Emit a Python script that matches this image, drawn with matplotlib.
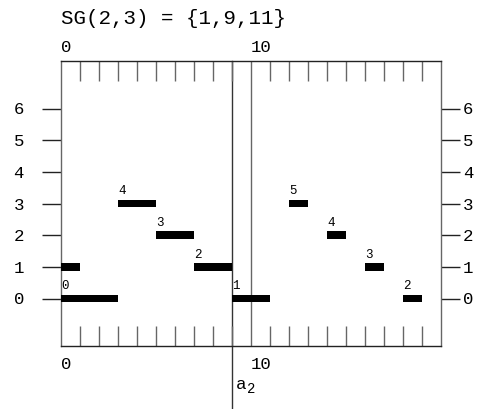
import matplotlib.pyplot as plt
from matplotlib.ticker import FixedLocator
from matplotlib.transforms import offset_copy

plt.rcParams['font.family'] = ['Liberation Mono', 'DejaVu Sans Mono']

# segments: row (y), start, end, label shown above the left end
seg_y = [0, 1, 3, 2, 1, 0, 3, 2, 1, 0]
seg_start = [0, 0, 3, 5, 7, 9, 12, 14, 16, 18]
seg_end = [3, 1, 5, 7, 9, 11, 13, 15, 17, 19]
seg_label = ['0', '', '4', '3', '2', '1', '5', '4', '3', '2']

title = 'SG(2,3) = {1,9,11}'
x_labeled = [0, 10]
x_minor = [i for i in range(1, 20) if i != 10]
y_ticks = [0, 1, 2, 3, 4, 5, 6]
cut_x = 9
gap_x = 10

fig = plt.figure(figsize=(4.8, 4.09), dpi=100)
ax = fig.add_axes([61 / 480, 1 - 346 / 409, 380 / 480, 285 / 409])
line_col = '#666666'

for y, s, e, lab in zip(seg_y, seg_start, seg_end, seg_label):
    ax.barh(y, e - s, left=s, height=0.25, color='black', zorder=3)
    if lab:
        ax.text(s, y + 0.2, lab, fontsize=9, ha='left', va='bottom')

ax.set_xlim(0, 20)
ax.set_ylim(-1.5, 7.5)

# vertical markers
ax.axvline(gap_x, color=line_col, lw=1, zorder=1)
ax.plot([cut_x, cut_x], [7.5, -3.6], color='#333333', lw=1, clip_on=False,
        zorder=1)
ax.text(cut_x + 0.2, -2.72, 'a', fontsize=12.5, ha='left', va='center')
sub_tr = offset_copy(ax.transData, fig=fig, x=11, y=-4, units='dots')
ax.text(cut_x + 0.2, -2.72, '2', fontsize=10, ha='left', va='center',
        transform=sub_tr)

for sp in ax.spines.values():
    sp.set_color(line_col)
    sp.set_linewidth(1)
ax.spines['top'].set_color('#222222')
ax.spines['bottom'].set_color('#222222')

# x axis: labels 0 and 10 top and bottom, inward minor ticks
ax.xaxis.set_major_locator(FixedLocator(x_labeled))
ax.xaxis.set_minor_locator(FixedLocator(x_minor))
ax.tick_params(axis='x', which='major', length=0, labelsize=12.5, pad=8)
ax.tick_params(axis='x', which='minor', direction='in', length=14.4,
               top=True, bottom=True, color=line_col, width=1)
for t in ax.get_xticklabels():
    t.set_ha('left')
secx = ax.secondary_xaxis('top')
secx.set_xticks(x_labeled)
secx.spines['top'].set_visible(False)
secx.tick_params(axis='x', length=0, labelsize=12.5, pad=4)
for t in secx.get_xticklabels():
    t.set_ha('left')

# y axis: outward ticks both sides
ax.set_yticks(y_ticks)
ax.tick_params(axis='y', which='major', direction='out', length=13.7,
               color='#222222', width=1, labelsize=12.5, pad=13)
sec = ax.secondary_yaxis('right')
sec.set_yticks(y_ticks)
sec.spines['right'].set_visible(False)
sec.tick_params(axis='y', direction='out', length=13.7, color='#222222',
                width=1, labelsize=12.5, pad=2)

fig.text(61 / 480, 1 - 18 / 409, title, fontsize=15, ha='left', va='center')

fig.savefig('out.png', dpi=100)
